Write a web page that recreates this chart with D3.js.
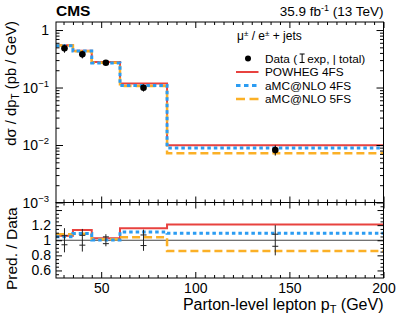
<!DOCTYPE html>
<html><head><meta charset="utf-8">
<script src="https://cdn.jsdelivr.net/npm/d3@7"></script>
<style>
body{margin:0;background:#fff;}
text{font-family:"Liberation Sans",Arial,Helvetica,sans-serif;fill:#000;}
</style></head>
<body><svg id="c" width="399" height="322"></svg>
<script>
// ---- data ----
const binEdges = [26, 35, 45, 60, 85, 200];
const binCenters = [30.5, 40, 52.5, 72.5, 142.5];
const dataValues = [0.48, 0.378, 0.27, 0.099, 0.0082];
const dataTotalRelErr = [0.16, 0.15, 0.08, 0.14, 0.20];
const dataExpRelErr = [0.06, 0.065, 0.045, 0.07, 0.08];
const powheg4FS = [0.542, 0.437, 0.278, 0.118, 0.0099];
const amcnlo4FS = [0.533, 0.430, 0.267, 0.109, 0.0089];
const amcnlo5FS = [0.536, 0.428, 0.270, 0.106, 0.0072];
const powheg4FSRatio = [1.06, 1.136, 1.026, 1.158, 1.21];
const amcnlo4FSRatio = [1.047, 1.09, 1.003, 1.109, 1.092];
const amcnlo5FSRatio = [1.08, 1.085, 1.012, 1.039, 0.858];
const xMajorTicks = [50, 100, 150, 200];
const yUpperMajor = [1e-3, 1e-2, 1e-1, 1];
const yUpperLabels = [["10","−3"],["10","−2"],["10","−1"],["1",""]];
const yLowerMajor = [0.6, 0.8, 1.0, 1.2, 1.4];
const yLowerLabels = ["0.6","0.8","1","1.2",""];
const legendLabels = ["POWHEG 4FS","aMC@NLO 4FS","aMC@NLO 5FS"];

// ---- layout ----
const L = 56, R = 383.5, T = 22, M = 202.5, B = 278;
const svg = d3.select("#c");
const x = d3.scaleLinear().domain([26, 200]).range([L, R]);
const yU = d3.scaleLog().domain([1e-3, 1.38]).range([M, T]);
const yL = d3.scaleLinear().domain([0.5, 1.5]).range([B, M]);

const series = [
  {name: legendLabels[0], up: powheg4FS, ratio: powheg4FSRatio, color:"#e8423f", w:2, dash:null},
  {name: legendLabels[2], up: amcnlo5FS, ratio: amcnlo5FSRatio, color:"#fbb026", w:2.5, dash:"8,4"},
  {name: legendLabels[1], up: amcnlo4FS, ratio: amcnlo4FSRatio, color:"#2b9cf2", w:3, dash:"3.5,3"}
];

const defs = svg.append("defs");
defs.append("clipPath").attr("id","cu").append("rect").attr("x",L).attr("y",T).attr("width",R-L).attr("height",M-T);
defs.append("clipPath").attr("id","cl").append("rect").attr("x",L).attr("y",M).attr("width",R-L).attr("height",B-M);

function stepPts(vals){
  const p=[];
  vals.forEach((v,i)=>{p.push([binEdges[i],v]);p.push([binEdges[i+1],v]);});
  return p;
}
// ratio reference line
svg.append("line").attr("x1",L).attr("x2",R).attr("y1",yL(1)).attr("y2",yL(1))
  .attr("stroke","#444").attr("stroke-width",1);

// step histograms
const gU = svg.append("g").attr("clip-path","url(#cu)");
const gL = svg.append("g").attr("clip-path","url(#cl)");
const lineU = d3.line().x(d=>x(d[0])).y(d=>yU(d[1]));
const lineL = d3.line().x(d=>x(d[0])).y(d=>yL(d[1]));
series.forEach(s=>{
  gU.append("path").attr("d",lineU(stepPts(s.up))).attr("fill","none")
    .attr("stroke",s.color).attr("stroke-width",s.w).attr("stroke-dasharray",s.dash);
  gL.append("path").attr("d",lineL(stepPts(s.ratio))).attr("fill","none")
    .attr("stroke",s.color).attr("stroke-width",s.w).attr("stroke-dasharray",s.dash);
});

// data points upper
dataValues.forEach((v,i)=>{
  const cx = x(binCenters[i]);
  gU.append("line").attr("x1",cx).attr("x2",cx)
    .attr("y1",yU(v*(1+dataTotalRelErr[i]))).attr("y2",yU(v*(1-dataTotalRelErr[i])))
    .attr("stroke","#000").attr("stroke-width",1);
  gU.append("circle").attr("cx",cx).attr("cy",yU(v)).attr("r",3.3).attr("fill","#000");
});
// ratio error bars
dataValues.forEach((v,i)=>{
  const cx = x(binCenters[i]);
  gL.append("line").attr("x1",cx).attr("x2",cx)
    .attr("y1",yL(1+dataTotalRelErr[i])).attr("y2",yL(1-dataTotalRelErr[i]))
    .attr("stroke","#222").attr("stroke-width",1);
  [1+dataExpRelErr[i],1-dataExpRelErr[i]].forEach(e=>{
    gL.append("line").attr("x1",cx-3).attr("x2",cx+3).attr("y1",yL(e)).attr("y2",yL(e))
      .attr("stroke","#222").attr("stroke-width",1);
  });
});

// ---- axes ----
const xMinor = d3.range(30, 200, 5).filter(v=>v%50!==0);
function xTicks(yPos, dir){
  const g = svg.append("g").attr("transform",`translate(0,${yPos})`);
  const ax = dir<0 ? d3.axisBottom(x) : d3.axisTop(x);
  g.append("g").call(ax.tickValues(xMajorTicks).tickSize(-6).tickFormat("")).call(a=>a.select(".domain").remove());
  const ax2 = dir<0 ? d3.axisBottom(x) : d3.axisTop(x);
  g.append("g").call(ax2.tickValues(xMinor).tickSize(-3).tickFormat("")).call(a=>a.select(".domain").remove());
  return g;
}
xTicks(T, 1);
xTicks(M, -1);
xTicks(M, 1);
const gxb = xTicks(B, -1);
gxb.append("g").call(d3.axisBottom(x).tickValues(xMajorTicks).tickSize(0).tickPadding(5))
  .call(a=>{a.select(".domain").remove(); a.selectAll("text").attr("font-size",14).attr("font-family",null).attr("fill","#000");});

// y axes (left and mirrored right)
const yUMinor = [];
[-3,-2,-1,0].forEach(k=>{for(let m=2;m<=9;m++){const v=m*Math.pow(10,k); if(v<1.38) yUMinor.push(v);}});
const yLMinor = d3.range(0.55, 1.5, 0.05).map(v=>+v.toFixed(2)).filter(v=>Math.abs(v*5-Math.round(v*5))>1e-6);
[[L, d3.axisLeft],[R, d3.axisRight]].forEach(([xp, axf])=>{
  const g = svg.append("g").attr("transform",`translate(${xp},0)`);
  g.append("g").call(axf(yU).tickValues(yUpperMajor).tickSize(-7).tickFormat("")).call(a=>a.select(".domain").remove());
  g.append("g").call(axf(yU).tickValues(yUMinor).tickSize(-3.5).tickFormat("")).call(a=>a.select(".domain").remove());
  g.append("g").call(axf(yL).tickValues(yLowerMajor).tickSize(-6).tickFormat("")).call(a=>a.select(".domain").remove());
  g.append("g").call(axf(yL).tickValues(yLMinor).tickSize(-3).tickFormat("")).call(a=>a.select(".domain").remove());
});
svg.selectAll(".tick line").attr("stroke","#000").attr("stroke-width",1);

// upper y labels
yUpperMajor.forEach((v,i)=>{
  const t = svg.append("text").attr("x",49).attr("y",yU(v)+5).attr("text-anchor","end").attr("font-size",14);
  t.append("tspan").text(yUpperLabels[i][0]);
  if(yUpperLabels[i][1]) t.append("tspan").attr("dy",-6).attr("font-size",9.5).text(yUpperLabels[i][1]);
});
// lower y labels
yLowerMajor.forEach((v,i)=>{
  if(!yLowerLabels[i]) return;
  svg.append("text").attr("x",51).attr("y",yL(v)+5).attr("text-anchor","end").attr("font-size",14).text(yLowerLabels[i]);
});

// frames
[[T,M],[M,B]].forEach(([a,b])=>{
  svg.append("rect").attr("x",L).attr("y",a).attr("width",R-L).attr("height",b-a)
    .attr("fill","none").attr("stroke","#000").attr("stroke-width",1);
});

// titles
svg.append("text").attr("x",L).attr("y",16).attr("font-size",15.5).attr("font-weight","bold").text("CMS");
const lum = svg.append("text").attr("x",R).attr("y",16).attr("text-anchor","end").attr("font-size",13.5);
lum.append("tspan").text("35.9 fb");
lum.append("tspan").attr("dy",-5).attr("font-size",9).text("-1");
lum.append("tspan").attr("dy",5).text(" (13 TeV)");

// x title
const xt = svg.append("text").attr("x",R).attr("y",310).attr("text-anchor","end").attr("font-size",16);
xt.append("tspan").text("Parton-level lepton p");
xt.append("tspan").attr("dy",3).attr("font-size",11).text("T");
xt.append("tspan").attr("dy",-3).text(" (GeV)");
// y titles
const yt = svg.append("text").attr("transform","translate(16,21) rotate(-90)").attr("text-anchor","end").attr("font-size",14.8);
yt.append("tspan").text("dσ / dp");
yt.append("tspan").attr("dy",3).attr("font-size",10).text("T");
yt.append("tspan").attr("dy",-3).text(" (pb / GeV)");
svg.append("text").attr("transform","translate(17,290) rotate(-90)").attr("text-anchor","start").attr("font-size",15.5).text("Pred. / Data");

// legend
const hd = svg.append("text").attr("x",237).attr("y",40).attr("font-size",12);
hd.append("tspan").text("μ");
hd.append("tspan").attr("dy",-4).attr("font-size",8).text("±");
hd.append("tspan").attr("dy",4).text(" / e");
hd.append("tspan").attr("dy",-4).attr("font-size",8).text("±");
hd.append("tspan").attr("dy",4).text(" + jets");

const rowY = [58.5, 72, 85.5, 99];
const tx = 265, lf = 11.8;
svg.append("circle").attr("cx",248).attr("cy",rowY[0]).attr("r",3).attr("fill","#000");
const d1 = svg.append("text").attr("x",tx).attr("y",rowY[0]+4).attr("font-size",lf).text("Data (");
const w1 = d1.node().getComputedTextLength();
const ibx = tx + w1 + 5;
svg.append("path").attr("d",`M${ibx-2.5},${rowY[0]-4.5}H${ibx+2.5}M${ibx},${rowY[0]-4.5}V${rowY[0]+4}M${ibx-2.5},${rowY[0]+4}H${ibx+2.5}`)
  .attr("stroke","#000").attr("stroke-width",1).attr("fill","none");
svg.append("text").attr("x",ibx+5).attr("y",rowY[0]+4).attr("font-size",lf).text("exp, | total)");

const legSeries = [series[0], series[2], series[1]];
legSeries.forEach((s,i)=>{
  const yy = rowY[i+1];
  svg.append("line").attr("x1",236).attr("x2",258.5).attr("y1",yy).attr("y2",yy)
    .attr("stroke",s.color).attr("stroke-width",s.w)
    .attr("stroke-dasharray", s.dash ? (s.dash==="8,4" ? "9,4.5" : "4.5,3.5") : null);
  svg.append("text").attr("x",tx).attr("y",yy+4).attr("font-size",lf).text(s.name);
});
</script>
</body></html>
